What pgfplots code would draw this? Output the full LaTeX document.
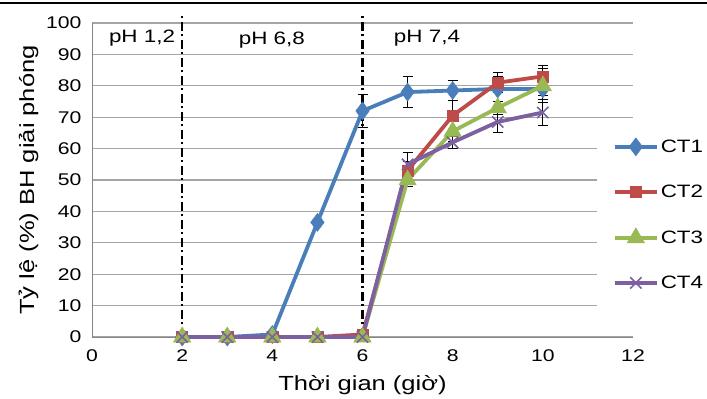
\documentclass[border=0pt]{standalone}
\usepackage{fontspec}
\setmainfont{Liberation Sans}[FakeStretch=1.25]
\usepackage{pgfplots}
\pgfplotsset{compat=1.18}
\definecolor{cA}{RGB}{74,126,187}
\definecolor{cB}{RGB}{190,75,72}
\definecolor{cC}{RGB}{152,185,84}
\definecolor{cD}{RGB}{125,96,160}
\definecolor{gridc}{RGB}{165,165,165}
\definecolor{axc}{RGB}{134,134,134}
\begin{document}
\begin{tikzpicture}
\useasboundingbox (0,0) rectangle (707bp,399bp);
\draw[black, line width=1.2bp] (0,396bp) -- (707bp,396bp);
\begin{axis}[
  at={(92bp,62bp)}, anchor=south west,
  width=541bp, height=314bp, scale only axis,
  xmin=0, xmax=12, ymin=0, ymax=100,
  xtick={0,2,...,12}, ytick={0,10,...,100},
  axis x line=bottom, axis y line=left,
  axis line style={-, axc, line width=1bp},
  major tick length=0pt,
  ymajorgrids, grid style={gridc, line width=1.1bp},
  /pgf/number format/assume math mode=true,
  ticklabel style={font=\fontsize{17}{18}\selectfont},
  xticklabel style={yshift=-9bp},
  yticklabel style={xshift=-7bp},
  xlabel={Thời gian (giờ)}, ylabel={Tỷ lệ (\%) BH giải phóng},
  label style={font=\fontsize{20.5}{21}\selectfont},
  xlabel style={yshift=-7bp},
  ylabel style={yshift=1bp},
  clip=false,
  legend style={at={(0.933,0.389)}, anchor=west, draw=none, fill=white,
    font=\fontsize{18}{19}\selectfont, inner xsep=16bp, inner ysep=14bp,
    row sep=27bp, cells={anchor=west}},
  legend image code/.code={\draw[mark repeat=2,mark phase=2] plot coordinates {(0bp,0bp) (21bp,0bp) (42bp,0bp)};},
  error bars/error bar style={black, line width=0.9bp},
  error bars/error mark options={rotate=90, mark size=5bp, black, line width=0.9bp},
]
% error bars
\addplot[draw=none, forget plot, error bars/.cd, y dir=both, y explicit] coordinates {
 (6,72) +- (0,5.3) (7,78) +- (0,5) (8,78.5) +- (0,3.3) (9,79) +- (0,4) (10,79) +- (0,2)};
\addplot[draw=none, forget plot, error bars/.cd, y dir=both, y explicit] coordinates {
 (7,53) +- (0,3) (8,70.5) +- (0,4.7) (9,81) +- (0,3.2) (10,83) +- (0,3.4)};
\addplot[draw=none, forget plot, error bars/.cd, y dir=both, y explicit] coordinates {
 (7,50) +- (0,2) (8,65.5) +- (0,3.3) (9,73) +- (0,2) (10,80) +- (0,5.4)};
\addplot[draw=none, forget plot, error bars/.cd, y dir=both, y explicit] coordinates {
 (7,55) +- (0,3.7) (8,62) +- (0,2) (9,68.5) +- (0,3.2) (10,71.5) +- (0,4)};
% series
\addplot[cA, line width=3.8bp, mark=diamond*, mark size=9bp, mark options={solid, line width=0.5bp}] coordinates {
 (2,0) (3,0) (4,0.8) (5,36.5) (6,72) (7,78) (8,78.5) (9,79) (10,79)};
\addlegendentry{CT1}
\addplot[cB, line width=3.8bp, mark=square*, mark size=5.5bp, mark options={solid, line width=0.5bp}] coordinates {
 (2,0) (3,0) (4,0) (5,0) (6,0.8) (7,53) (8,70.5) (9,81) (10,83)};
\addlegendentry{CT2}
\addplot[cC, line width=3.8bp, mark=triangle*, mark size=10bp, mark options={solid, line width=0.5bp}] coordinates {
 (2,0) (3,0) (4,0) (5,0) (6,0) (7,50) (8,65.5) (9,73) (10,80)};
\addlegendentry{CT3}
\addplot[cD, line width=3.8bp, mark=x, mark size=8bp, mark options={solid, line width=1.6bp}] coordinates {
 (2,0) (3,0) (4,0) (5,0) (6,0) (7,55) (8,62) (9,68.5) (10,71.5)};
\addlegendentry{CT4}
% phase separators
\draw[black, line width=2.2bp, dash pattern=on 9bp off 3.5bp on 2bp off 3.5bp] (axis cs:2,0) -- (axis cs:2,103);
\draw[black, line width=2.2bp, dash pattern=on 9bp off 3.5bp on 2bp off 3.5bp] (axis cs:6,0) -- (axis cs:6,103);
\node[font=\fontsize{18}{19}\selectfont] at (axis cs:1.11,95.2) {pH 1,2};
\node[font=\fontsize{18}{19}\selectfont] at (axis cs:3.99,94.5) {pH 6,8};
\node[font=\fontsize{18}{19}\selectfont] at (axis cs:7.43,95.2) {pH 7,4};
\end{axis}
\end{tikzpicture}
\end{document}
